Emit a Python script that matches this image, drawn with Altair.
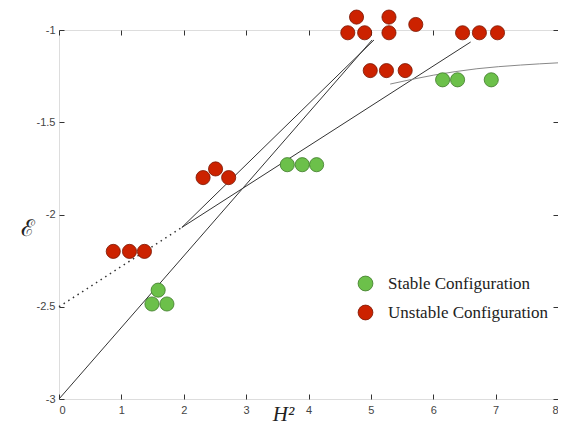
import altair as alt
import pandas as pd

# Stable (green) configurations
green_x = [1.59, 1.49, 1.73, 3.66, 3.90, 4.13, 6.15, 6.39, 6.93]
green_y = [-2.41, -2.485, -2.485, -1.73, -1.73, -1.73, -1.27, -1.27, -1.27]

# Unstable (red) configurations
red_x = [0.87, 1.13, 1.37, 2.31, 2.51, 2.72, 4.63, 4.77, 4.90, 5.29, 5.29, 5.72,
         6.47, 6.74, 7.03, 4.99, 5.25, 5.55]
red_y = [-2.20, -2.20, -2.20, -1.80, -1.753, -1.80, -1.015, -0.93, -1.015, -0.93,
         -1.015, -0.97, -1.015, -1.015, -1.015, -1.22, -1.22, -1.22]

# Solid fit lines (segment id, x, y)
seg_id = ["A", "A", "B", "B", "C", "C"]
seg_x = [1.97, 5.05, 0.0, 5.02, 1.97, 6.60]
seg_y = [-2.07, -1.054, -3.0, -1.054, -2.07, -1.065]

# Dotted extrapolation
dot_x = [0.0, 1.97]
dot_y = [-2.5, -2.07]

# Gray curve
curve_x = [5.31, 6.0, 6.7, 7.4, 8.0]
curve_y = [-1.293, -1.245, -1.21, -1.19, -1.178]

labels = ["Stable Configuration", "Unstable Configuration"]

pts = pd.DataFrame({
    "x": green_x + red_x,
    "y": green_y + red_y,
    "type": [labels[0]] * len(green_x) + [labels[1]] * len(red_x),
})
segs = pd.DataFrame({"id": seg_id, "x": seg_x, "y": seg_y})
dots = pd.DataFrame({"x": dot_x, "y": dot_y})
curve = pd.DataFrame({"x": curve_x, "y": curve_y})

xs = alt.Scale(domain=[0, 8], nice=False, zero=False)
ys = alt.Scale(domain=[-3, -1], nice=False, zero=False)

lab_font = "Liberation Sans"

x_bottom = alt.Axis(values=list(range(0, 9)), orient="bottom", offset=-5, tickSize=5,
                    domain=False, grid=False, labelFont=lab_font, labelFontSize=11,
                    labelColor="#444", tickColor="#333", labelPadding=5,
                    title="H²", titleFont="Liberation Serif", titleFontStyle="italic",
                    titleFontWeight="normal", titleFontSize=21, titleColor="#222",
                    titleX=224, titleY=26, titleBaseline="alphabetic", titleAnchor="middle")
y_left = alt.Axis(values=[-3, -2.5, -2, -1.5, -1], orient="left", offset=-5, tickSize=5,
                  domain=False, grid=False, labelFont=lab_font, labelFontSize=11,
                  labelColor="#444", tickColor="#333", labelPadding=4,
                  labelExpr="toString(datum.value)",
                  title="ℰ", titleFont="DejaVu Serif", titleFontSize=23, titleAngle=0,
                  titleFontWeight="normal", titleColor="#222",
                  titleX=-37, titleY=205, titleBaseline="alphabetic", titleAlign="center")
x_top = alt.Axis(values=list(range(0, 9)), orient="top", offset=-5, tickSize=5,
                 domain=False, grid=False, labels=False, title=None, tickColor="#333")
y_right = alt.Axis(values=[-3, -2.5, -2, -1.5, -1], orient="right", offset=-5, tickSize=5,
                   domain=False, grid=False, labels=False, title=None, tickColor="#333")

lines = alt.Chart(segs).mark_line(color="#333", strokeWidth=1, clip=False).encode(
    x=alt.X("x:Q", scale=xs, axis=x_bottom),
    y=alt.Y("y:Q", scale=ys, axis=y_left),
    detail="id:N",
)
dotted = alt.Chart(dots).mark_line(color="#333", strokeWidth=1.5, strokeDash=[1.5, 4]).encode(
    x=alt.X("x:Q", scale=xs, axis=x_top),
    y=alt.Y("y:Q", scale=ys, axis=y_right),
)
curved = alt.Chart(curve).mark_line(color="#888", strokeWidth=1, interpolate="monotone").encode(
    x=alt.X("x:Q", scale=xs, axis=None),
    y=alt.Y("y:Q", scale=ys, axis=None),
)
points = alt.Chart(pts).mark_circle(size=200, opacity=1, strokeWidth=0.8, clip=False).encode(
    x=alt.X("x:Q", scale=xs, axis=None),
    y=alt.Y("y:Q", scale=ys, axis=None),
    fill=alt.Fill("type:N", scale=alt.Scale(domain=labels, range=["#6cc04a", "#cc2200"]),
                  legend=alt.Legend(title=None, orient="none", legendX=298, legendY=245,
                                    labelFont="Liberation Serif", labelFontSize=17,
                                    labelColor="#222", symbolSize=220, rowPadding=10,
                                    labelOffset=14, symbolStrokeWidth=0.8, labelLimit=0)),
    stroke=alt.Stroke("type:N", scale=alt.Scale(domain=labels, range=["#3d7a28", "#7a1500"]),
                      legend=None),
)

chart = alt.layer(lines, dotted, curved, points).resolve_axis(
    x="independent", y="independent"
).properties(
    width=499, height=369,
    autosize=alt.AutoSizeParams(type="none"),
    padding={"left": 51, "top": 22, "right": 0, "bottom": 26},
).configure_view(stroke="#222", strokeWidth=1.2).configure(background="white")

chart.save("out.html", embed_options={"renderer": "svg", "actions": False})
